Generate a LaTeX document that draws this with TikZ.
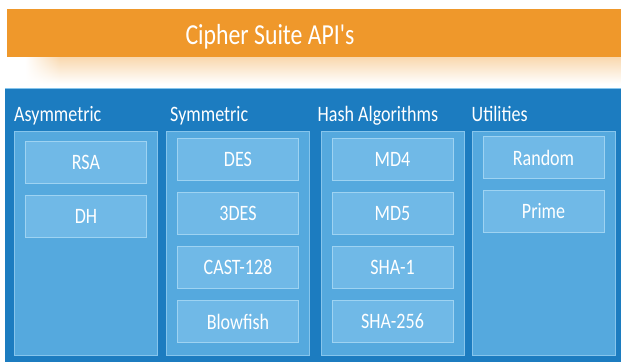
\documentclass[tikz,border=0pt]{standalone}
\usepackage{fontspec}
\setmainfont{Carlito}
\newfontfamily\narrowfont{Carlito}[FakeStretch=0.82]
\usepackage{tikz}
\usetikzlibrary{positioning}
\usetikzlibrary{fadings}
\definecolor{suiteorange}{HTML}{EF982B}
\definecolor{panelblue}{HTML}{1C7CC0}
\definecolor{colblue}{HTML}{55A9DE}
\definecolor{colline}{HTML}{86C5EC}
\definecolor{algoblue}{HTML}{70B9E7}
\definecolor{algoline}{HTML}{9ED3F2}
\tikzfading[name=fade right,left color=transparent!100,right color=transparent!0]

\begin{document}
\begin{tikzpicture}[x=1pt,y=1pt,node distance=11pt,
  column/.style={draw=colline,fill=colblue,line width=1pt,minimum width=143pt,minimum height=224pt,anchor=north},
  algo/.style={draw=algoline,fill=algoblue,line width=1pt,minimum width=121pt,minimum height=42pt,inner sep=0pt,
    text=white,font=\narrowfont\fontsize{22}{24}\selectfont},
  heading/.style={anchor=base west,inner sep=0pt,text=white,font=\narrowfont\fontsize{22}{24}\selectfont}]
  \useasboundingbox (0,0) rectangle (621,362);
  % title bar with its soft shadow
  \shade[top color=suiteorange!38,bottom color=white] (60,278) rectangle (621,305);
  \shade[top color=suiteorange!38,bottom color=white,path fading=fade right] (25,278) rectangle (60,305);
  \fill[suiteorange] (7,305) rectangle (621,353);
  \node[anchor=base,inner sep=0pt,text=white,font=\narrowfont\fontsize{29}{32}\selectfont](title) at (270,317) {Cipher Suite API's};
  % blue panel
  \fill[panelblue] (5,0) rectangle (621,274);
  \draw[colline,line width=1pt] (5,273.5)--(621,273.5);
  % the four columns
  \node[column](asym) at (86,231) {};
  \node[column](sym)  at (238,231) {};
  \node[column](hash) at (392.5,231) {};
  \node[column](util) at (543.5,231) {};
  \node[heading](asymhead) at ([yshift=9pt]asym.north west) {Asymmetric};
  \node[heading](symhead)  at ([yshift=9pt,xshift=4pt]sym.north west) {Symmetric};
  \node[heading](hashhead) at ([yshift=9pt,xshift=-3pt]hash.north west) {Hash Algorithms};
  \node[heading](utilhead) at ([yshift=9pt]util.north west) {Utilities};
  % asymmetric
  \node[algo,below=10pt of asym.north](rsa) {RSA};
  \node[algo,below= of rsa](dh) {DH};
  % symmetric
  \node[algo,below=7pt of sym.north](des) {DES};
  \node[algo,below= of des](tdes) {3DES};
  \node[algo,below= of tdes](cast) {CAST-128};
  \node[algo,below= of cast](blowfish) {Blowfish};
  % hash algorithms
  \node[algo,below=7pt of hash.north](mdfour) {MD4};
  \node[algo,below= of mdfour](mdfive) {MD5};
  \node[algo,below= of mdfive](shaone) {SHA-1};
  \node[algo,below= of shaone](shatwo) {SHA-256};
  % utilities
  \node[algo,below=5pt of util.north](random) {Random};
  \node[algo,below= of random](prime) {Prime};
\end{tikzpicture}
\end{document}
